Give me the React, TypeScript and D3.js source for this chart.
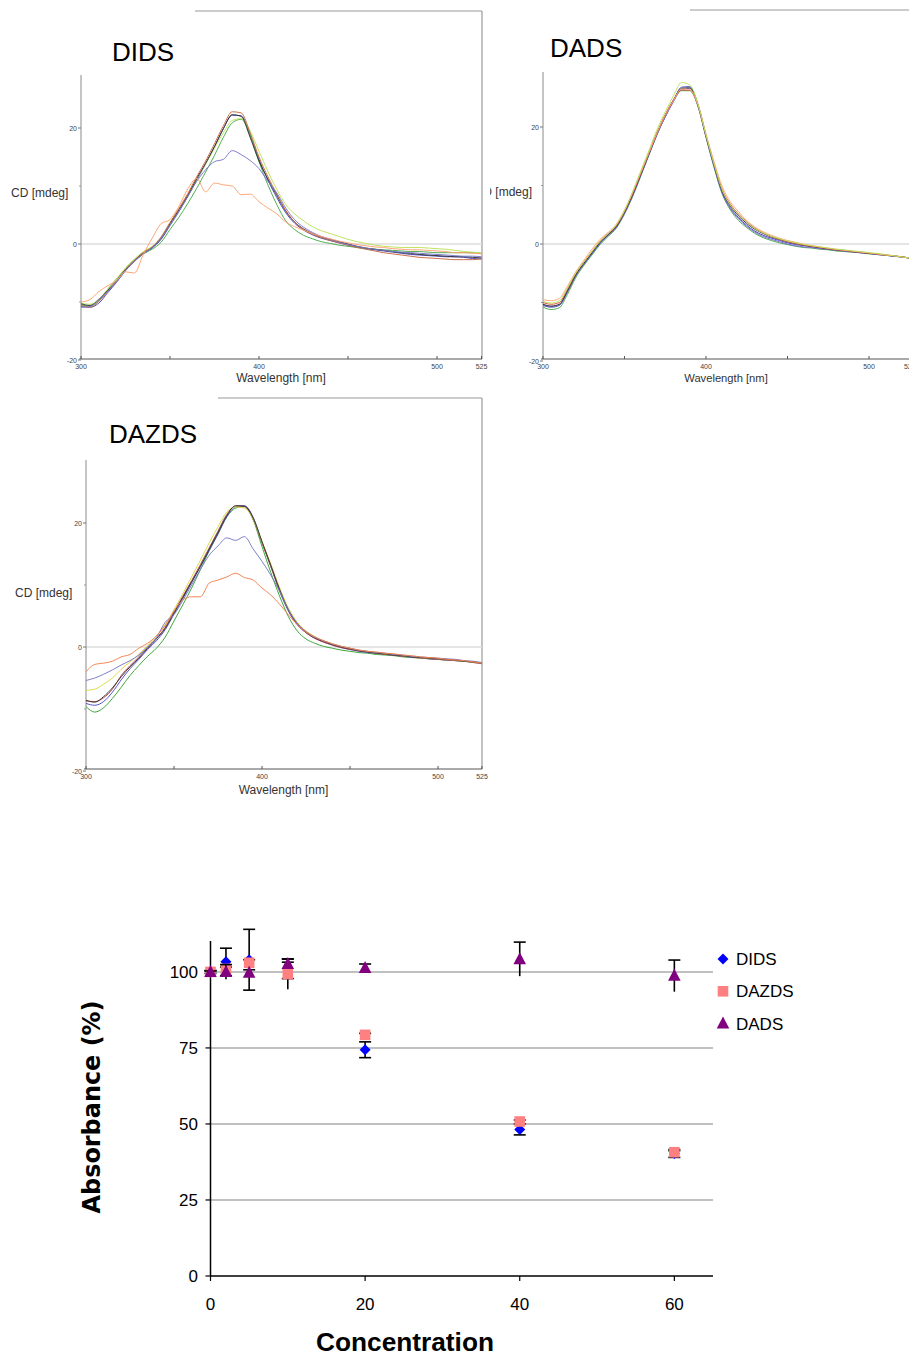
import React from "react";
import * as d3 from "d3";

// ---------- Spectra data ----------
const WL = [300,305,310,315,320,325,330,335,340,345,350,355,360,365,370,375,380,385,390,395,400,405,410,415,420,425,430,435,440,445,450,455,460,465,470,475,480,485,490,495,500,505,510,515,520,525];
const X_TICKS_MAJOR = [300, 400, 500, 525];
const X_TICKS_MINOR = [350, 450];
const Y_TICKS = [20, 0, -20];

const DIDS_BLACK = [-10.3,-10.6,-9.6,-8.0,-6.3,-4.4,-2.8,-1.5,-0.6,1.0,3.5,5.9,8.4,11.3,13.9,16.8,19.9,22.3,22.0,18.4,14.3,11.2,8.4,5.7,3.8,2.6,1.8,1.2,0.8,0.4,0.0,-0.4,-0.7,-0.9,-1.1,-1.3,-1.5,-1.6,-1.8,-1.9,-2.0,-2.1,-2.2,-2.2,-2.3,-2.4];
const DIDS_BROWN = [-10.6,-10.9,-9.9,-8.2,-6.4,-4.5,-2.9,-1.5,-0.5,1.2,3.7,6.1,8.7,11.6,14.3,17.3,20.4,22.8,22.6,19.2,15.0,11.6,8.6,5.8,3.8,2.5,1.7,1.1,0.6,0.2,-0.2,-0.6,-0.9,-1.2,-1.5,-1.7,-1.9,-2.1,-2.3,-2.4,-2.5,-2.6,-2.7,-2.7,-2.7,-2.5];
const DIDS_BLUE = [-10.8,-10.9,-10.2,-8.4,-6.6,-4.6,-3.0,-1.7,-0.7,0.8,3.2,5.6,8.2,11.0,13.8,16.8,19.9,22.2,22.1,18.8,14.6,11.0,8.0,5.4,3.6,2.4,1.6,1.0,0.6,0.2,-0.2,-0.5,-0.8,-1.0,-1.2,-1.4,-1.6,-1.8,-1.9,-2.0,-2.1,-2.2,-2.2,-2.3,-2.5,-2.6];
const DIDS_GREEN = [-10.5,-10.7,-9.8,-7.8,-6.0,-4.3,-2.9,-1.7,-0.9,0.3,2.5,4.6,7.0,9.6,12.4,15.3,18.4,20.9,21.5,18.8,14.2,10.2,6.8,4.0,2.5,1.5,0.9,0.4,0.1,-0.2,-0.4,-0.6,-0.8,-0.9,-1.0,-1.1,-1.2,-1.3,-1.3,-1.4,-1.5,-1.5,-1.5,-1.5,-1.5,-1.6];
const DIDS_YELLOWGREEN = [-10.2,-10.4,-9.5,-7.8,-6.0,-4.1,-2.6,-1.3,-0.4,1.2,3.6,6.0,8.5,11.2,13.8,16.5,19.2,21.3,21.6,19.5,16.0,12.5,9.4,6.8,5.2,4.0,3.0,2.3,1.8,1.3,0.8,0.4,0.1,-0.2,-0.4,-0.5,-0.6,-0.6,-0.6,-0.7,-0.8,-0.9,-1.1,-1.3,-1.4,-1.6];
const DIDS_LAVENDER = [-10.9,-10.8,-9.5,-8.2,-6.5,-4.6,-3.0,-1.7,-0.6,1.0,3.2,5.6,8.2,10.8,12.8,14.2,14.6,16.1,15.4,14.4,13.0,10.8,8.8,6.2,4.2,2.9,2.0,1.3,0.8,0.3,-0.1,-0.4,-0.7,-0.9,-1.1,-1.3,-1.4,-1.5,-1.6,-1.7,-1.8,-1.9,-2.0,-2.1,-2.1,-2.2];
const DIDS_ORANGE = [-10.0,-9.6,-8.2,-7.2,-6.3,-4.8,-5.0,-1.8,1.0,3.5,4.2,6.5,9.5,11.3,9.0,10.5,10.2,10.0,8.5,8.6,7.3,6.2,5.2,3.8,3.0,2.4,1.8,1.3,0.9,0.5,0.2,-0.1,-0.3,-0.5,-0.6,-0.8,-0.9,-1.0,-1.0,-1.1,-1.2,-1.3,-1.5,-1.5,-1.6,-1.7];

const DADS_BLACK = [-10.3,-10.6,-10.3,-8.0,-5.3,-3.3,-1.5,0.3,1.6,3.0,5.5,8.5,12.0,15.5,19.0,22.0,24.6,26.6,26.7,23.8,18.5,13.5,9.0,6.5,4.8,3.5,2.5,1.8,1.2,0.8,0.4,0.1,-0.2,-0.4,-0.6,-0.8,-1.0,-1.1,-1.3,-1.4,-1.6,-1.7,-1.9,-2.0,-2.2,-2.4];
const DADS_RED = [-10.0,-10.3,-10.0,-7.7,-5.1,-3.1,-1.3,0.5,1.8,3.1,5.6,8.6,12.1,15.6,19.1,22.1,24.6,26.3,26.3,23.9,18.7,13.7,9.3,6.8,5.1,3.8,2.7,1.9,1.3,0.8,0.4,0.1,-0.2,-0.4,-0.6,-0.8,-1.0,-1.1,-1.3,-1.4,-1.6,-1.7,-1.9,-2.0,-2.2,-2.4];
const DADS_ORANGE = [-9.5,-9.7,-9.3,-7.2,-4.8,-2.8,-0.9,0.8,2.0,3.4,5.8,8.8,12.2,15.6,19.0,22.0,24.5,26.5,26.4,23.8,18.8,14.0,9.8,7.2,5.5,4.0,2.9,2.1,1.5,1.0,0.6,0.3,0.0,-0.3,-0.5,-0.7,-0.9,-1.1,-1.2,-1.4,-1.5,-1.7,-1.9,-2.0,-2.2,-2.4];
const DADS_YELLOWGREEN = [-9.8,-10.1,-9.7,-7.5,-5.0,-3.1,-1.3,0.5,1.8,3.3,5.7,9.0,12.5,16.0,19.6,22.6,25.3,27.6,27.2,24.0,18.6,13.6,9.2,6.6,5.0,3.7,2.6,1.9,1.3,0.9,0.5,0.2,-0.1,-0.3,-0.5,-0.7,-0.9,-1.0,-1.2,-1.3,-1.5,-1.6,-1.8,-2.0,-2.2,-2.4];
const DADS_GREEN = [-10.8,-11.2,-10.9,-8.6,-5.8,-3.7,-1.9,-0.1,1.3,2.7,5.1,8.1,11.6,15.2,18.7,21.8,24.5,26.2,26.2,23.6,18.2,13.0,8.5,5.8,4.0,2.8,1.8,1.1,0.6,0.2,-0.1,-0.4,-0.6,-0.7,-0.9,-1.0,-1.2,-1.3,-1.4,-1.5,-1.7,-1.8,-1.9,-2.1,-2.2,-2.4];
const DADS_BLUE = [-10.5,-10.8,-10.5,-8.2,-5.5,-3.5,-1.7,0.1,1.5,2.9,5.3,8.3,11.8,15.3,18.8,21.8,24.5,26.8,26.9,23.9,18.4,13.3,8.8,6.2,4.5,3.2,2.2,1.5,1.0,0.6,0.2,-0.1,-0.3,-0.5,-0.7,-0.9,-1.0,-1.2,-1.3,-1.5,-1.6,-1.8,-1.9,-2.1,-2.2,-2.4];
const DADS_LAVENDER = [-10.4,-10.7,-10.4,-8.1,-5.4,-3.4,-1.6,0.2,1.5,2.9,5.3,8.3,11.8,15.3,18.8,21.7,24.3,26.4,26.6,23.6,18.3,13.2,8.7,6.0,4.3,3.0,2.0,1.3,0.8,0.4,0.0,-0.3,-0.5,-0.6,-0.8,-0.9,-1.1,-1.2,-1.4,-1.5,-1.6,-1.8,-1.9,-2.1,-2.2,-2.4];

const DAZDS_BLACK = [-8.6,-8.9,-8.0,-6.6,-4.8,-3.2,-1.8,-0.2,1.3,3.0,5.5,8.0,10.5,13.0,15.8,18.5,21.2,22.8,22.7,20.8,17.0,13.2,9.3,6.0,3.8,2.4,1.5,0.9,0.4,0.0,-0.3,-0.6,-0.8,-1.0,-1.1,-1.3,-1.4,-1.6,-1.7,-1.8,-1.9,-2.0,-2.1,-2.3,-2.4,-2.6];
const DAZDS_RED = [-8.7,-8.8,-8.2,-6.8,-4.6,-3.0,-1.6,0.0,1.4,3.2,5.7,8.2,10.7,13.3,16.0,18.7,21.4,22.7,22.6,20.6,16.8,13.0,9.1,5.9,3.7,2.3,1.4,0.8,0.3,-0.1,-0.4,-0.6,-0.8,-1.0,-1.2,-1.3,-1.5,-1.6,-1.8,-1.9,-2.0,-2.1,-2.2,-2.3,-2.5,-2.7];
const DAZDS_BLUE = [-9.1,-9.4,-8.8,-7.3,-5.3,-3.5,-2.0,-0.4,1.0,2.8,5.3,7.8,10.4,13.0,15.6,18.2,21.0,22.6,22.8,20.9,16.9,13.0,9.0,5.8,3.6,2.3,1.4,0.8,0.3,-0.1,-0.4,-0.7,-0.9,-1.0,-1.2,-1.3,-1.5,-1.6,-1.7,-1.9,-2.0,-2.1,-2.2,-2.3,-2.4,-2.6];
const DAZDS_GREEN = [-9.6,-10.5,-9.8,-8.3,-6.5,-4.6,-3.0,-1.5,-0.2,1.6,4.2,6.8,9.5,12.5,15.5,18.3,21.0,22.4,22.7,20.5,16.2,12.0,8.2,4.9,2.6,1.3,0.6,0.1,-0.2,-0.5,-0.7,-0.9,-1.0,-1.2,-1.3,-1.4,-1.6,-1.7,-1.8,-1.9,-2.0,-2.1,-2.2,-2.3,-2.5,-2.6];
const DAZDS_YELLOW = [-7.0,-6.8,-6.0,-5.0,-3.6,-2.4,-1.2,0.3,1.8,3.6,6.0,8.6,11.3,14.0,16.8,19.4,21.8,22.6,22.4,20.6,17.0,13.4,9.6,6.3,4.0,2.6,1.7,1.0,0.5,0.1,-0.2,-0.5,-0.7,-0.9,-1.1,-1.2,-1.4,-1.5,-1.7,-1.8,-1.9,-2.0,-2.1,-2.3,-2.4,-2.6];
const DAZDS_LAVENDER = [-5.4,-5.0,-4.4,-3.7,-2.9,-2.2,-1.3,0.0,1.5,4.0,5.2,7.5,10.0,12.5,14.8,16.3,17.6,17.2,17.8,15.8,13.8,11.6,9.0,6.0,3.8,2.5,1.6,1.0,0.5,0.1,-0.2,-0.5,-0.7,-0.9,-1.0,-1.2,-1.3,-1.5,-1.6,-1.7,-1.8,-1.9,-2.0,-2.2,-2.3,-2.5];
const DAZDS_ORANGE = [-4.0,-2.8,-2.6,-2.3,-1.6,-1.2,-0.2,0.6,1.8,3.5,5.8,7.6,8.1,8.1,10.3,10.8,11.3,11.9,11.2,10.8,9.5,8.4,6.9,5.2,3.6,2.4,1.6,1.0,0.5,0.1,-0.2,-0.5,-0.7,-0.8,-1.0,-1.1,-1.3,-1.4,-1.6,-1.7,-1.8,-2.0,-2.1,-2.2,-2.4,-2.6];

// ---------- Absorbance data ----------
const CONC = [0, 2, 5, 10, 20, 40, 60];
const DIDS_ABS = [100, 103.3, 104, 101, 74.4, 48.2, 40.3];
const DIDS_ERR = [0.5, 4.5, 10, 3.2, 2.6, 1.8, 1.3];
const DAZDS_ABS = [100, 101, 103, 99.3, 79.3, 50.8, 40.7];
const DAZDS_ERR = [0.3, 0.6, 1, 5, 0.5, 0.5, 0.5];
const DADS_ABS = [100, 100, 99.7, 102.6, 101.3, 104.2, 98.7];
const DADS_ERR = [0.3, 2.4, 1, 0.6, 1.3, 5.6, 5.2];
const ABS_Y_TICKS = [0, 25, 50, 75, 100];
const ABS_X_TICKS = [0, 20, 40, 60];
const LEGEND = ["DIDS", "DAZDS", "DADS"];

const FONT = "'Liberation Sans', Arial, sans-serif";

type Series = { color: string; values: number[] };

type PanelCfg = {
  title: string;
  titleX: number; titleY: number;
  x0: number; x1: number;
  yZero: number; yTwenty: number;
  axisTop: number; axisY: number;
  frameTop: number; frameLeft: number; frameRight: number | null;
  cdX: number; cdY: number; cdAnchor: "start" | "end";
  wlX: number; wlY: number; wlSize: number;
  clipLeft: number;
  series: Series[];
  id: string;
};

const PANELS: PanelCfg[] = [
  {
    id: "p1", title: "DIDS", titleX: 112, titleY: 61,
    x0: 81, x1: 481.5, yZero: 244, yTwenty: 128, axisTop: 75, axisY: 359,
    frameTop: 11, frameLeft: 195, frameRight: 482,
    cdX: 11, cdY: 197, cdAnchor: "start", wlX: 281, wlY: 382, wlSize: 12, clipLeft: 0,
    series: [
      { color: "#4040bc", values: DIDS_BLUE },
      { color: "#48aa48", values: DIDS_GREEN },
      { color: "#bce25a", values: DIDS_YELLOWGREEN },
      { color: "#303030", values: DIDS_BLACK },
      { color: "#c8683f", values: DIDS_BROWN },
      { color: "#7878cc", values: DIDS_LAVENDER },
      { color: "#ffa070", values: DIDS_ORANGE },
    ],
  },
  {
    id: "p2", title: "DADS", titleX: 550, titleY: 57,
    x0: 543, x1: 909.75, yZero: 244, yTwenty: 127, axisTop: 72, axisY: 359,
    frameTop: 10, frameLeft: 690, frameRight: null,
    cdX: 532, cdY: 196, cdAnchor: "end", wlX: 726, wlY: 382, wlSize: 11.2, clipLeft: 490,
    series: [
      { color: "#48aa48", values: DADS_GREEN },
      { color: "#4040bc", values: DADS_BLUE },
      { color: "#7a6ad0", values: DADS_LAVENDER },
      { color: "#303030", values: DADS_BLACK },
      { color: "#d05035", values: DADS_RED },
      { color: "#ffa878", values: DADS_ORANGE },
      { color: "#bce25a", values: DADS_YELLOWGREEN },
    ],
  },
  {
    id: "p3", title: "DAZDS", titleX: 109, titleY: 443,
    x0: 86, x1: 482, yZero: 647, yTwenty: 523, axisTop: 460, axisY: 769,
    frameTop: 398, frameLeft: 218, frameRight: 482,
    cdX: 15, cdY: 597, cdAnchor: "start", wlX: 283.5, wlY: 794, wlSize: 12, clipLeft: 0,
    series: [
      { color: "#34a234", values: DAZDS_GREEN },
      { color: "#4c4cc2", values: DAZDS_BLUE },
      { color: "#bc4848", values: DAZDS_RED },
      { color: "#d8d848", values: DAZDS_YELLOW },
      { color: "#303030", values: DAZDS_BLACK },
      { color: "#7878c4", values: DAZDS_LAVENDER },
      { color: "#f28050", values: DAZDS_ORANGE },
    ],
  },
];

function SpectrumPanel({ cfg }: { cfg: PanelCfg }) {
  const xs = d3.scaleLinear().domain([300, 525]).range([cfg.x0, cfg.x1]);
  const ys = d3.scaleLinear().domain([0, 20]).range([cfg.yZero, cfg.yTwenty]);
  const line = d3
    .line<number>()
    .x((_, i) => xs(WL[i]))
    .y((d) => ys(d))
    .curve(d3.curveMonotoneX);
  const right = cfg.frameRight ?? 909;
  const clipId = `clip-${cfg.id}`;
  return (
    <g>
      <defs>
        <clipPath id={clipId}>
          <rect x={cfg.clipLeft} y={0} width={909 - cfg.clipLeft} height={1361} />
        </clipPath>
      </defs>
      <g clipPath={`url(#${clipId})`}>
        <line x1={cfg.frameLeft} x2={right} y1={cfg.frameTop} y2={cfg.frameTop} stroke="#9a9a9a" strokeWidth={1.2} />
        {cfg.frameRight !== null && (
          <line x1={right} x2={right} y1={cfg.frameTop} y2={cfg.axisY} stroke="#9a9a9a" strokeWidth={1.2} />
        )}
        <line x1={cfg.x0} x2={Math.min(right, 909)} y1={ys(0)} y2={ys(0)} stroke="#dcdcdc" strokeWidth={1.5} />
        <line x1={cfg.x0} x2={cfg.x0} y1={cfg.axisTop} y2={cfg.axisY} stroke="#8a8a8a" strokeWidth={1} />
        <line x1={cfg.x0 - 2} x2={Math.min(right, 909)} y1={cfg.axisY} y2={cfg.axisY} stroke="#555" strokeWidth={1} />
        {Y_TICKS.map((t) => (
          <g key={`yt${t}`}>
            <line x1={cfg.x0 - 3} x2={cfg.x0} y1={ys(t)} y2={ys(t)} stroke="#777" />
            <text x={cfg.x0 - 4} y={ys(t) + 2.5} fontSize={7} fill="#444" textAnchor="end" fontFamily={FONT}>
              {t}
            </text>
          </g>
        ))}
        {[10, -10].map((t) => (
          <line key={`ym${t}`} x1={cfg.x0 - 2} x2={cfg.x0} y1={ys(t)} y2={ys(t)} stroke="#999" />
        ))}
        {X_TICKS_MAJOR.map((t) => (
          <g key={`xt${t}`}>
            <line x1={xs(t)} x2={xs(t)} y1={cfg.axisY} y2={cfg.axisY - 3} stroke="#555" />
            <text x={xs(t)} y={cfg.axisY + 10} fontSize={7} fill="#444" textAnchor="middle" fontFamily={FONT}>
              {t}
            </text>
          </g>
        ))}
        {X_TICKS_MINOR.map((t) => (
          <line key={`xm${t}`} x1={xs(t)} x2={xs(t)} y1={cfg.axisY} y2={cfg.axisY - 3} stroke="#555" />
        ))}
        {cfg.series.map((s, i) => (
          <path key={i} d={line(s.values) || ""} fill="none" stroke={s.color} strokeWidth={0.95} strokeLinejoin="round" />
        ))}
        <text x={cfg.cdX} y={cfg.cdY} fontSize={12} fill="#333" textAnchor={cfg.cdAnchor} fontFamily={FONT}>
          CD [mdeg]
        </text>
        <text x={cfg.wlX} y={cfg.wlY} fontSize={cfg.wlSize} fill="#333" textAnchor="middle" fontFamily={FONT}>
          Wavelength [nm]
        </text>
        <text x={cfg.titleX} y={cfg.titleY} fontSize={26} fill="#000" fontFamily={FONT}>
          {cfg.title}
        </text>
      </g>
    </g>
  );
}

function AbsorbanceChart() {
  const xs = d3.scaleLinear().domain([0, 65]).range([210.5, 713]);
  const ys = d3.scaleLinear().domain([0, 110]).range([1276, 941.5]);
  const series = [
    { name: LEGEND[0], y: DIDS_ABS, e: DIDS_ERR, color: "#0000ff", shape: "diamond", lowCap: true },
    { name: LEGEND[1], y: DAZDS_ABS, e: DAZDS_ERR, color: "#ff8080", shape: "square", lowCap: false },
    { name: LEGEND[2], y: DADS_ABS, e: DADS_ERR, color: "#800080", shape: "triangle", lowCap: false },
  ];
  const marker = (shape: string, cx: number, cy: number, color: string, key: string) => {
    if (shape === "diamond") {
      return <path key={key} d={`M${cx},${cy - 5.5}L${cx + 5.5},${cy}L${cx},${cy + 5.5}L${cx - 5.5},${cy}Z`} fill={color} />;
    }
    if (shape === "square") {
      return <rect key={key} x={cx - 5.3} y={cy - 5.3} width={10.6} height={10.6} fill={color} />;
    }
    return <path key={key} d={`M${cx},${cy - 7}L${cx + 6.3},${cy + 5}L${cx - 6.3},${cy + 5}Z`} fill={color} />;
  };
  return (
    <g fontFamily={FONT}>
      {ABS_Y_TICKS.filter((t) => t > 0).map((t) => (
        <line key={`g${t}`} x1={xs(0)} x2={713} y1={ys(t)} y2={ys(t)} stroke="#c0c0c0" strokeWidth={2} />
      ))}
      <line x1={xs(0)} x2={xs(0)} y1={941} y2={1276} stroke="#000" strokeWidth={1.5} />
      <line x1={xs(0)} x2={713} y1={1276} y2={1276} stroke="#000" strokeWidth={1.5} />
      {ABS_Y_TICKS.map((t) => (
        <g key={`yt${t}`}>
          <line x1={xs(0) - 5} x2={xs(0)} y1={ys(t)} y2={ys(t)} stroke="#000" strokeWidth={1.2} />
          <text x={198} y={ys(t) + 6} fontSize={17} textAnchor="end" fill="#000">
            {t}
          </text>
        </g>
      ))}
      {ABS_X_TICKS.map((t) => (
        <g key={`xt${t}`}>
          <line x1={xs(t)} x2={xs(t)} y1={1276} y2={1281} stroke="#000" strokeWidth={1.2} />
          <text x={xs(t)} y={1310} fontSize={17} textAnchor="middle" fill="#000">
            {t}
          </text>
        </g>
      ))}
      {series.map((s) => (
        <g key={s.name}>
          {CONC.map((c, i) => {
            const cx = xs(c);
            const top = ys(s.y[i] + s.e[i]);
            const bot = ys(s.y[i] - s.e[i]);
            return (
              <g key={i} stroke="#000" strokeWidth={1.6}>
                <line x1={cx} x2={cx} y1={top} y2={bot} />
                <line x1={cx - 6} x2={cx + 6} y1={top} y2={top} />
                {s.lowCap && <line x1={cx - 6} x2={cx + 6} y1={bot} y2={bot} />}
              </g>
            );
          })}
          {CONC.map((c, i) => marker(s.shape, xs(c), ys(s.y[i]), s.color, `m${i}`))}
        </g>
      ))}
      {series.map((s, i) => (
        <g key={`lg${s.name}`}>
          {marker(s.shape, 723, 959 + i * 32.3, s.color, `lm${i}`)}
          <text x={736} y={965 + i * 32.3} fontSize={17} fill="#000">
            {s.name}
          </text>
        </g>
      ))}
      <text
        transform="translate(100,1107) rotate(-90)"
        textAnchor="middle"
        fontSize={25}
        fontWeight="bold"
        fontFamily="'DejaVu Sans', sans-serif"
        textLength={213}
        lengthAdjust="spacingAndGlyphs"
        fill="#000"
      >
        Absorbance (%)
      </text>
      <text x={405} y={1351} textAnchor="middle" fontSize={26} fontWeight="bold" textLength={178} lengthAdjust="spacingAndGlyphs" fill="#000">
        Concentration
      </text>
    </g>
  );
}

export default function App() {
  return (
    <svg
      width={909}
      height={1361}
      viewBox="0 0 909 1361"
      style={{ position: "absolute", left: 0, top: 0, display: "block", background: "#fff" }}
    >
      <rect x={0} y={0} width={909} height={1361} fill="#fff" />
      {PANELS.map((p) => (
        <SpectrumPanel key={p.id} cfg={p} />
      ))}
      <AbsorbanceChart />
    </svg>
  );
}
